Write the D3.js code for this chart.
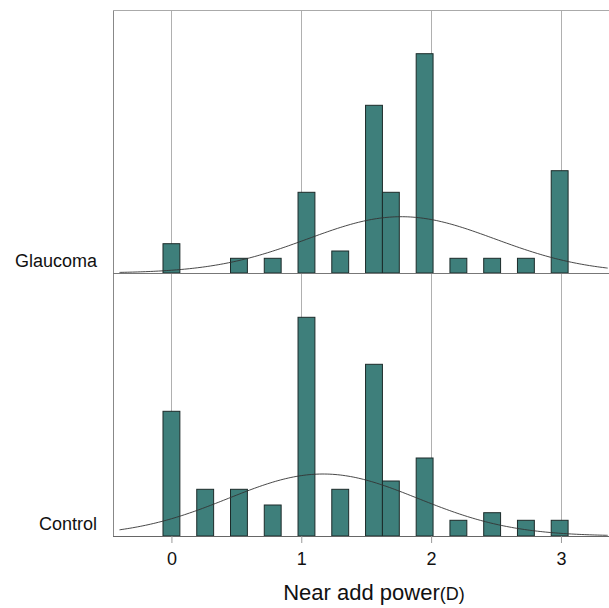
<!DOCTYPE html>
<html>
<head>
<meta charset="utf-8">
<script src="https://cdn.jsdelivr.net/npm/d3@7"></script>
<style>
  body { margin: 0; background: #fff; }
  svg { display: block; font-family: Arial, "Liberation Sans", sans-serif; }
</style>
</head>
<body>
<div id="vis"></div>
<script>
// Datos (porcentaje por intervalo de potencia de adicion)
const bins = [0, 0.26, 0.52, 0.78, 1.04, 1.30, 1.56, 1.69, 1.95, 2.21, 2.47, 2.73, 2.99];
const glaucoma = [2.93, 0, 1.47, 1.47, 8.07, 2.2, 16.77, 8.07, 21.93, 1.47, 1.47, 1.47, 10.23];
const control = [12.47, 4.67, 4.67, 3.1, 21.87, 4.67, 17.17, 5.5, 7.8, 1.57, 2.33, 1.57, 1.57];
const groups = ["Glaucoma", "Control"];
const ticks = [0, 1, 2, 3];
// curva normal ajustada: media, desviacion, altura maxima (%)
const fitGlaucoma = [1.77, 0.72, 5.63];
const fitControl = [1.168, 0.73, 6.2];

const WIDTH = 609;
const HEIGHT = 608;
const LEFT = 113;
const TOP = 10;
const PANEL_H = 263;
const BAR_W = 0.13;

const SVG = d3.select("#vis").append("svg")
  .attr("width", WIDTH).attr("height", HEIGHT);

const x = d3.scaleLinear().domain([-0.45, 3.37]).range([LEFT, WIDTH]);
const y = d3.scaleLinear().domain([0, 26.3]).range([PANEL_H, 0]);

const bottom = TOP + PANEL_H * 2;

// lineas de cuadricula
SVG.selectAll("line.grid").data(ticks).join("line")
  .attr("class", "grid")
  .attr("x1", d => Math.round(x(d)) + 0.5).attr("x2", d => Math.round(x(d)) + 0.5)
  .attr("y1", TOP).attr("y2", bottom)
  .attr("stroke", "#b0b0b0").attr("stroke-width", 1);

function panel(values, fit, index, name) {
  const g = SVG.append("g").attr("transform", `translate(0,${TOP + index * PANEL_H})`);

  g.selectAll("rect").data(bins.map((b, i) => [b, values[i]]).filter(d => d[1] > 0))
    .join("rect")
    .attr("x", d => x(d[0] - BAR_W / 2))
    .attr("width", x(BAR_W) - x(0))
    .attr("y", d => y(d[1]))
    .attr("height", d => y(0) - y(d[1]))
    .attr("fill", "#3e7f7b")
    .attr("stroke", "#1c2b2a").attr("stroke-width", 1);

  const pts = d3.range(-0.4, 3.371, 0.02);
  const curve = d3.line()
    .x(d => x(d))
    .y(d => y(fit[2] * Math.exp(-((d - fit[0]) ** 2) / (2 * fit[1] ** 2))))
    .curve(d3.curveBasis);
  g.append("path").datum(pts)
    .attr("d", curve)
    .attr("fill", "none").attr("stroke", "#333").attr("stroke-width", 0.9);

  g.append("text")
    .attr("x", 97).attr("y", PANEL_H - 6)
    .attr("text-anchor", "end")
    .attr("font-size", 18)
    .attr("fill", "#111")
    .text(name);
}

panel(glaucoma, fitGlaucoma, 0, groups[0]);
panel(control, fitControl, 1, groups[1]);

// marco
SVG.append("line").attr("x1", LEFT + 0.5).attr("x2", LEFT + 0.5).attr("y1", TOP).attr("y2", bottom)
  .attr("stroke", "#888");
SVG.append("line").attr("x1", LEFT).attr("x2", WIDTH).attr("y1", TOP + 0.5).attr("y2", TOP + 0.5)
  .attr("stroke", "#aaa");
SVG.append("line").attr("x1", LEFT).attr("x2", WIDTH).attr("y1", TOP + PANEL_H + 0.5).attr("y2", TOP + PANEL_H + 0.5)
  .attr("stroke", "#777");

// eje x
const axis = SVG.append("g").attr("transform", `translate(0,${bottom})`)
  .call(d3.axisBottom(x).tickValues(ticks).tickFormat(d3.format("d")).tickSize(7).tickPadding(9));
axis.select(".domain").attr("stroke", "#666").attr("d", `M${LEFT},0.5H${WIDTH}`);
axis.selectAll(".tick line").attr("stroke", "#999");
axis.selectAll(".tick text").attr("font-size", 18).attr("fill", "#111")
  .attr("font-family", "Arial, 'Liberation Sans', sans-serif");

const title = SVG.append("text")
  .attr("x", 374).attr("y", 600)
  .attr("text-anchor", "middle")
  .attr("font-size", 22)
  .attr("fill", "#111");
title.append("tspan").text("Near add power");
title.append("tspan").attr("font-size", 18).text("(D)");
</script>
</body>
</html>
